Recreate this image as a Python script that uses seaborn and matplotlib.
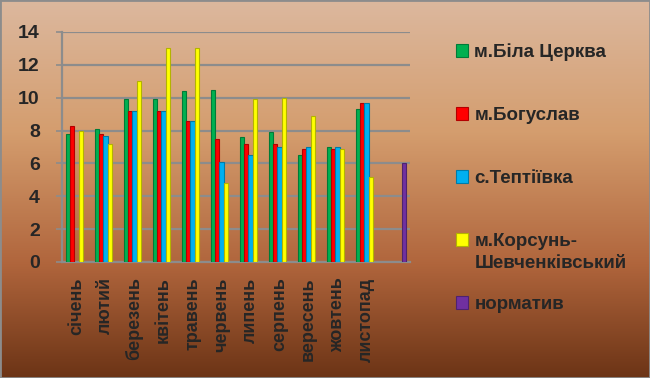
import numpy as np
import pandas as pd
import matplotlib
matplotlib.use("Agg")
import matplotlib.pyplot as plt
import seaborn as sns
from matplotlib.colors import LinearSegmentedColormap, to_rgb
from matplotlib.patches import Rectangle

# дані
months = ["січень", "лютий", "березень", "квітень", "травень", "червень",
          "липень", "серпень", "вересень", "жовтень", "листопад", ""]
series = ["м.Біла Церква", "м.Богуслав", "с.Тептіївка",
          "м.Корсунь-", "норматив"]
korsun_tail = "Шевченківський"  # другий рядок підпису в легенді
bila_tserkva = [7.8, 8.1, 9.9, 9.9, 10.4, 10.5, 7.6, 7.9, 6.5, 7.0, 9.3, None]
bohuslav = [8.3, 7.8, 9.2, 9.2, 8.6, 7.5, 7.2, 7.2, 6.9, 6.9, 9.7, None]
teptiivka = [None, 7.7, 9.2, 9.2, 8.6, 6.1, 6.5, 7.0, 7.0, 7.0, 9.7, None]
korsun = [8.0, 7.2, 11.0, 13.0, 13.0, 4.8, 9.9, 10.0, 8.9, 6.9, 5.2, None]
normatyv = [None] * 11 + [6.0]
colors = ["#00b050", "#ff0000", "#00b0f0", "#ffff00", "#7030a0"]

rows = []
for name, vals in zip(series, [bila_tserkva, bohuslav, teptiivka, korsun, normatyv]):
    for m, v in zip(months, vals):
        if v is not None:
            rows.append({"month": m, "series": name, "value": v})
df = pd.DataFrame(rows)

sns.set_style("white")
plt.rcParams["font.family"] = ["Liberation Sans", "DejaVu Sans"]
plt.rcParams["font.weight"] = "bold"

fig = plt.figure(figsize=(6.5, 3.78), dpi=100)

# фон з градієнтом
bg = fig.add_axes([0, 0, 1, 1], zorder=-10)
cmap = LinearSegmentedColormap.from_list(
    "bg", [(0.0, "#dcb89e"), (0.35, "#d49d6e"), (0.7, "#b0653c"), (1.0, "#6c3416")])
bg.imshow(np.linspace(0, 1, 256).reshape(-1, 1), cmap=cmap, aspect="auto",
          extent=[0, 1, 0, 1], origin="upper")
bg.set_axis_off()
fig.patches.append(Rectangle((0, 0), 1, 1, transform=fig.transFigure,
                             fill=False, edgecolor="#8c8c8c", linewidth=2))

ax = fig.add_axes([62 / 650, 1 - 262 / 378, 348 / 650, 230 / 378])
ax.set_facecolor("none")
sns.barplot(data=df, x="month", y="value", hue="series", order=months,
            hue_order=series, palette=colors, saturation=1, width=0.7,
            errorbar=None, ax=ax, zorder=3)

for p in ax.patches:
    fc = to_rgb(p.get_facecolor())
    p.set_edgecolor(tuple(c * 0.7 for c in fc))
    p.set_linewidth(0.8)

ax.set_ylim(0, 14)
ax.set_xlim(-0.5, 11.5)
ax.set_yticks(range(0, 15, 2))
ax.grid(axis="y", color="#8c8c8c", linewidth=1.6, zorder=0)
ax.set_axisbelow(True)
for s in ["top", "right"]:
    ax.spines[s].set_visible(False)
for s in ["left", "bottom"]:
    ax.spines[s].set_color("#8c8c8c")
    ax.spines[s].set_linewidth(1.6)

ax.set_xticks(np.arange(-0.5, 12, 1), minor=True)
ax.tick_params(axis="x", which="major", length=0, pad=11, labelsize=13,
               labelrotation=90)
ax.tick_params(axis="x", which="minor", length=4, color="#8c8c8c", width=1.2)
ax.tick_params(axis="y", length=4, color="#8c8c8c", width=1.2, pad=12,
               labelsize=14, left=True)
for lbl in ax.get_xticklabels() + ax.get_yticklabels():
    lbl.set_fontweight("bold")
ax.set_xlabel("")
ax.set_ylabel("")

handles, labels = ax.get_legend_handles_labels()
leg = ax.legend(handles, labels, loc="upper left",
                bbox_to_anchor=(448 / 650, 1 - 36 / 378),
                bbox_transform=fig.transFigure, frameon=False,
                handlelength=0.65, handleheight=0.65, handletextpad=0.35,
                labelspacing=2.45, borderaxespad=0,
                prop={"weight": "bold", "size": 13.5})

# другий рядок підпису м.Корсунь-Шевченківський під першим
fig.canvas.draw()
t = leg.get_texts()[3]
bb = t.get_window_extent()
fig.text(bb.x0, (bb.y0 + bb.y1) / 2 - 22, korsun_tail, transform=None,
         ha="left", va="center", fontsize=13.5, fontweight="bold")

fig.savefig("out.png", dpi=100)
